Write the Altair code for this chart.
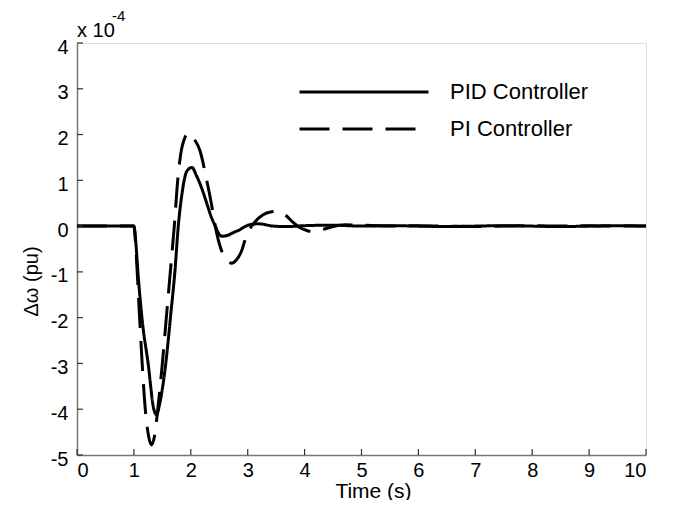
import altair as alt
import pandas as pd

# PID controller response (x 1e-4 pu)
pid_t = [0, 0.5, 1.0, 1.03, 1.07, 1.15, 1.25, 1.35, 1.40, 1.45, 1.56, 1.65, 1.72, 1.78, 1.85, 1.93, 2.02,
         2.1, 2.2, 2.28, 2.36, 2.43, 2.5, 2.55, 2.65, 2.75, 2.86, 2.95, 3.07, 3.2, 3.45, 3.7, 4.0, 4.5,
         5.0, 5.5, 6.0, 6.5, 7.0, 7.5, 8.0, 8.5, 9.0, 9.5, 10.0]
pid_v = [0, 0, 0, -0.3, -1.0, -2.1, -3.0, -4.0, -4.12, -3.9, -3.0, -1.9, -1.0, 0.0, 0.75, 1.2, 1.28,
         1.1, 0.8, 0.5, 0.2, 0.0, -0.18, -0.22, -0.2, -0.14, -0.08, -0.01, 0.04, 0.05, 0.0, -0.01, 0.01, 0.02,
         0.0, 0.01, 0.0, -0.01, 0.0, 0.01, 0.0, -0.01, 0.0, 0.01, 0.0]

# PI controller response (x 1e-4 pu)
pi_t = [0, 0.5, 1.0, 1.04, 1.1, 1.15, 1.2, 1.26, 1.31, 1.36, 1.42, 1.5, 1.57, 1.64, 1.71, 1.77, 1.85,
        1.96, 2.06, 2.16, 2.28, 2.36, 2.43, 2.5, 2.58, 2.65, 2.72, 2.8, 2.89, 2.98, 3.1, 3.27, 3.4, 3.51,
        3.65, 3.8, 3.9, 4.05, 4.15, 4.3, 4.5, 4.7, 5.0, 5.5, 6.0, 6.5, 7.0, 7.5, 8.0, 8.5, 9.0, 9.5, 10.0]
pi_v = [0, 0, 0, -0.6, -2.0, -3.1, -4.0, -4.6, -4.78, -4.6, -4.0, -3.0, -2.0, -1.0, 0.0, 1.0, 1.75,
        2.03, 1.9, 1.65, 1.0, 0.5, 0.0, -0.38, -0.65, -0.78, -0.81, -0.74, -0.55, -0.2, 0.05, 0.25, 0.31, 0.32,
        0.25, 0.08, -0.02, -0.1, -0.12, -0.08, -0.01, 0.03, 0.02, 0.0, 0.01, 0.0, -0.01, 0.0, 0.01, 0.0, 0.01, 0.0, 0.0]

series_names = ["PID Controller", "PI Controller"]
x_ticks = list(range(0, 11))
y_ticks = list(range(-5, 5))

W, H = 569, 412
FONT = "Liberation Sans"

df = pd.concat([
    pd.DataFrame({"t": pid_t, "v": pid_v, "series": series_names[0]}),
    pd.DataFrame({"t": pi_t, "v": pi_v, "series": series_names[1]}),
])

xscale = alt.Scale(domain=[0, 10], nice=False, zero=False)
yscale = alt.Scale(domain=[-5, 4], nice=False, zero=False)

xaxis = alt.Axis(
    values=x_ticks, title="Time (s)", ticks=False, grid=False,
    domainColor="#777", domainWidth=1.5, labelFontSize=20, labelFont=FONT, labelColor="black",
    labelPadding=5, titleFontSize=21, titleFont=FONT, titleFontWeight="normal", titleColor="black",
    titleX=296, titleY=25, titleBaseline="top")
yaxis = alt.Axis(
    values=y_ticks, title="Δω (pu)", ticks=False, grid=False,
    labelExpr="replace(datum.label, '\u2212', '-')",
    domainColor="#777", domainWidth=1.5, labelFontSize=20, labelFont=FONT, labelColor="black",
    labelPadding=9, labelOffset=4, titleFontSize=20, titleFont=FONT, titleFontWeight="normal",
    titleColor="black", titleX=-36, titleY=238, titleBaseline="bottom")

lines = alt.Chart(df).mark_line(color="black", strokeWidth=3, interpolate="monotone").encode(
    x=alt.X("t:Q", scale=xscale, axis=xaxis),
    y=alt.Y("v:Q", scale=yscale, axis=yaxis),
    strokeDash=alt.StrokeDash("series:N", scale=alt.Scale(domain=series_names, range=[[1, 0], [30, 13]]),
        legend=alt.Legend(title=None, orient="none", legendX=221, legendY=34, symbolType="stroke",
                          symbolSize=16641, symbolStrokeWidth=3, symbolStrokeColor="black",
                          clipHeight=30, rowPadding=7, labelFontSize=22, labelFont=FONT,
                          labelColor="black", labelOffset=20)),
    detail="series:N",
)

xt = alt.Chart(pd.DataFrame({"t": x_ticks})).mark_rule(color="#333", strokeWidth=1.2).encode(
    x=alt.X("t:Q", scale=xscale, axis=xaxis), y=alt.value(H), y2=alt.value(H - 6))
yt = alt.Chart(pd.DataFrame({"v": y_ticks})).mark_rule(color="#333", strokeWidth=1.2).encode(
    y=alt.Y("v:Q", scale=yscale, axis=yaxis), x=alt.value(0), x2=alt.value(6))

exp_base = alt.Chart(pd.DataFrame({"s": ["x 10"]})).mark_text(
    align="left", baseline="alphabetic", fontSize=20, font=FONT, color="black").encode(
    text="s:N", x=alt.value(0), y=alt.value(-6))
exp_sup = alt.Chart(pd.DataFrame({"s": ["-4"]})).mark_text(
    align="left", baseline="alphabetic", fontSize=15, font=FONT, color="black").encode(
    text="s:N", x=alt.value(35), y=alt.value(-22))

chart = alt.layer(lines, xt, yt, exp_base, exp_sup).properties(
    width=W, height=H,
    autosize=alt.AutoSizeParams(type="none"),
    padding={"left": 69, "top": 35, "right": 26, "bottom": 45},
).configure_view(stroke=None).configure(background="white")

chart.save("out.html", embed_options={"renderer": "svg", "actions": False})
